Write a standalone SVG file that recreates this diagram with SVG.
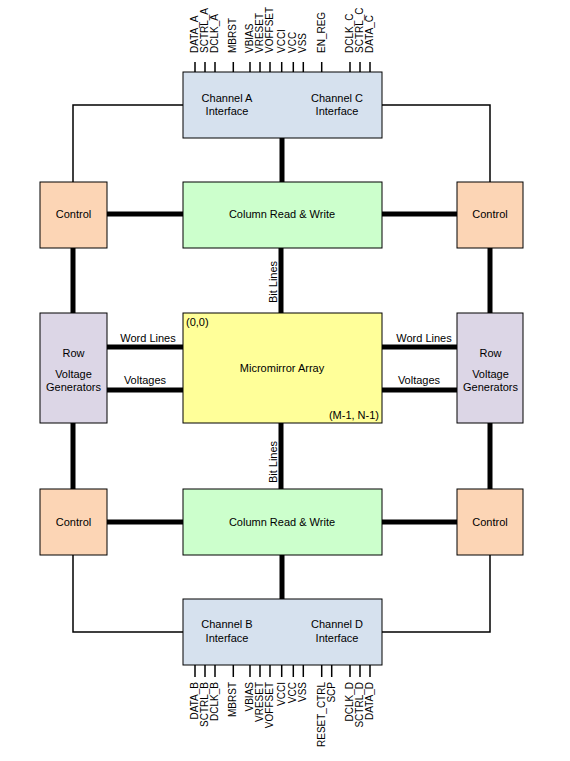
<svg xmlns="http://www.w3.org/2000/svg" width="570" height="761" viewBox="0 0 570 761">
<style>
text{font-family:"Liberation Sans",Arial,sans-serif;font-size:11px;fill:#000}
.pin{font-size:10px}
.box{stroke:#000;stroke-width:1}
.chan{fill:#D6E1EE}
.ctrl{fill:#FCD5B5}
.col{fill:#CCFFCC}
.row{fill:#DCD6E6}
.arr{fill:#FFFF99}
.thick{stroke:#000;stroke-width:5;fill:none}
.thin{stroke:#000;stroke-width:1.5;fill:none}
.tick{stroke:#000;stroke-width:1.5}
.c{text-anchor:middle}
</style>
<rect width="570" height="761" fill="#fff"/>
<g id="connectors">
<path class="thin" d="M73,182 V105 H183 M382,105 H490 V182"/>
<path class="thin" d="M73,555 V632 H183 M382,632 H490 V555"/>
<path class="thick" d="M282,138 V182 M282,555 V599"/>
<path class="thick" d="M107,214 H183 M382,214 H457 M107,522 H183 M382,522 H457"/>
<path class="thick" d="M73,248 V313 M73,423 V489 M490,248 V313 M490,423 V489"/>
<path class="thick" d="M281,248 V313 M281,423 V489"/>
<path class="thick" d="M107,347 H183 M107,390 H183 M382,347 H457 M382,390 H457"/>
<text x="148" y="342" class="c">Word Lines</text>
<text x="145" y="384" class="c">Voltages</text>
<text x="424" y="342" class="c">Word Lines</text>
<text x="419" y="384" class="c">Voltages</text>
<text transform="translate(277,282) rotate(-90)" class="c">Bit Lines</text>
<text transform="translate(277,462) rotate(-90)" class="c">Bit Lines</text>
</g>
<g id="channelAC">
<rect class="box chan" x="183" y="72" width="199" height="66"/>
<text x="227" y="102" class="c">Channel A</text>
<text x="227" y="115" class="c">Interface</text>
<text x="337" y="102" class="c">Channel C</text>
<text x="337" y="115" class="c">Interface</text>
<g class="tick">
<line x1="195" y1="62" x2="195" y2="72"/><line x1="205" y1="62" x2="205" y2="72"/><line x1="215" y1="62" x2="215" y2="72"/><line x1="233.3" y1="62" x2="233.3" y2="72"/><line x1="250" y1="62" x2="250" y2="72"/><line x1="260" y1="62" x2="260" y2="72"/><line x1="270" y1="62" x2="270" y2="72"/><line x1="281.7" y1="62" x2="281.7" y2="72"/><line x1="293.3" y1="62" x2="293.3" y2="72"/><line x1="303.3" y1="62" x2="303.3" y2="72"/><line x1="321.7" y1="62" x2="321.7" y2="72"/><line x1="350" y1="62" x2="350" y2="72"/><line x1="360" y1="62" x2="360" y2="72"/><line x1="370" y1="62" x2="370" y2="72"/>
</g>
<g class="pin">
<text class="pin" transform="translate(198,53) rotate(-90)">DATA_A</text>
<text class="pin" transform="translate(208,53) rotate(-90)">SCTRL_A</text>
<text class="pin" transform="translate(218,53) rotate(-90)">DCLK_A</text>
<text class="pin" transform="translate(236.3,53) rotate(-90)">MBRST</text>
<text class="pin" transform="translate(253,53) rotate(-90)">VBIAS</text>
<text class="pin" transform="translate(263,53) rotate(-90)">VRESET</text>
<text class="pin" transform="translate(273,53) rotate(-90)">VOFFSET</text>
<text class="pin" transform="translate(284.7,53) rotate(-90)">VCCI</text>
<text class="pin" transform="translate(296.3,53) rotate(-90)">VCC</text>
<text class="pin" transform="translate(306.3,53) rotate(-90)">VSS</text>
<text class="pin" transform="translate(324.7,53) rotate(-90)">EN_REG</text>
<text class="pin" transform="translate(353,53) rotate(-90)">DCLK_C</text>
<text class="pin" transform="translate(363,53) rotate(-90)">SCTRL_C</text>
<text class="pin" transform="translate(373,53) rotate(-90)">DATA_C</text>
</g>
</g>
<g id="controlTL"><rect class="box ctrl" x="40" y="182" width="67" height="66"/><text x="73.5" y="218" class="c">Control</text></g>
<g id="controlTR"><rect class="box ctrl" x="457" y="182" width="66" height="66"/><text x="490" y="218" class="c">Control</text></g>
<g id="columnTop"><rect class="box col" x="183" y="182" width="199" height="66"/><text x="282" y="218" class="c">Column Read &amp; Write</text></g>
<g id="rowLeft"><rect class="box row" x="40" y="313" width="67" height="110"/><text x="73.5" y="357" class="c">Row</text><text x="73.5" y="378" class="c">Voltage</text><text x="73.5" y="391" class="c">Generators</text></g>
<g id="rowRight"><rect class="box row" x="457" y="313" width="66" height="110"/><text x="490.5" y="357" class="c">Row</text><text x="490.5" y="378" class="c">Voltage</text><text x="490.5" y="391" class="c">Generators</text></g>
<g id="array"><rect class="box arr" x="183" y="313" width="199" height="110"/><text x="186" y="326">(0,0)</text><text x="282" y="372" class="c">Micromirror Array</text><text x="379" y="419" text-anchor="end">(M-1, N-1)</text></g>
<g id="controlBL"><rect class="box ctrl" x="40" y="489" width="67" height="66"/><text x="73.5" y="526" class="c">Control</text></g>
<g id="controlBR"><rect class="box ctrl" x="457" y="489" width="66" height="66"/><text x="490" y="526" class="c">Control</text></g>
<g id="columnBottom"><rect class="box col" x="183" y="489" width="199" height="66"/><text x="282" y="526" class="c">Column Read &amp; Write</text></g>
<g id="channelBD">
<rect class="box chan" x="183" y="599" width="199" height="66"/>
<text x="227" y="628" class="c">Channel B</text>
<text x="227" y="642" class="c">Interface</text>
<text x="337" y="628" class="c">Channel D</text>
<text x="337" y="642" class="c">Interface</text>
<g class="tick">
<line x1="195" y1="665" x2="195" y2="677"/><line x1="205" y1="665" x2="205" y2="677"/><line x1="215" y1="665" x2="215" y2="677"/><line x1="233.3" y1="665" x2="233.3" y2="677"/><line x1="250" y1="665" x2="250" y2="677"/><line x1="260" y1="665" x2="260" y2="677"/><line x1="270" y1="665" x2="270" y2="677"/><line x1="281.7" y1="665" x2="281.7" y2="677"/><line x1="293.3" y1="665" x2="293.3" y2="677"/><line x1="303.3" y1="665" x2="303.3" y2="677"/><line x1="321.7" y1="665" x2="321.7" y2="677"/><line x1="331.7" y1="665" x2="331.7" y2="677"/><line x1="350" y1="665" x2="350" y2="677"/><line x1="360" y1="665" x2="360" y2="677"/><line x1="370" y1="665" x2="370" y2="677"/>
</g>
<g text-anchor="end">
<text class="pin" transform="translate(198,682) rotate(-90)">DATA_B</text>
<text class="pin" transform="translate(208,682) rotate(-90)">SCTRL_B</text>
<text class="pin" transform="translate(218,682) rotate(-90)">DCLK_B</text>
<text class="pin" transform="translate(236.3,682) rotate(-90)">MBRST</text>
<text class="pin" transform="translate(253,682) rotate(-90)">VBIAS</text>
<text class="pin" transform="translate(263,682) rotate(-90)">VRESET</text>
<text class="pin" transform="translate(273,682) rotate(-90)">VOFFSET</text>
<text class="pin" transform="translate(284.7,682) rotate(-90)">VCCI</text>
<text class="pin" transform="translate(296.3,682) rotate(-90)">VCC</text>
<text class="pin" transform="translate(306.3,682) rotate(-90)">VSS</text>
<text class="pin" transform="translate(324.7,682) rotate(-90)">RESET_CTRL</text>
<text class="pin" transform="translate(334.7,682) rotate(-90)">SCP</text>
<text class="pin" transform="translate(353,682) rotate(-90)">DCLK_D</text>
<text class="pin" transform="translate(363,682) rotate(-90)">SCTRL_D</text>
<text class="pin" transform="translate(373,682) rotate(-90)">DATA_D</text>
</g>
</g>
</svg>
